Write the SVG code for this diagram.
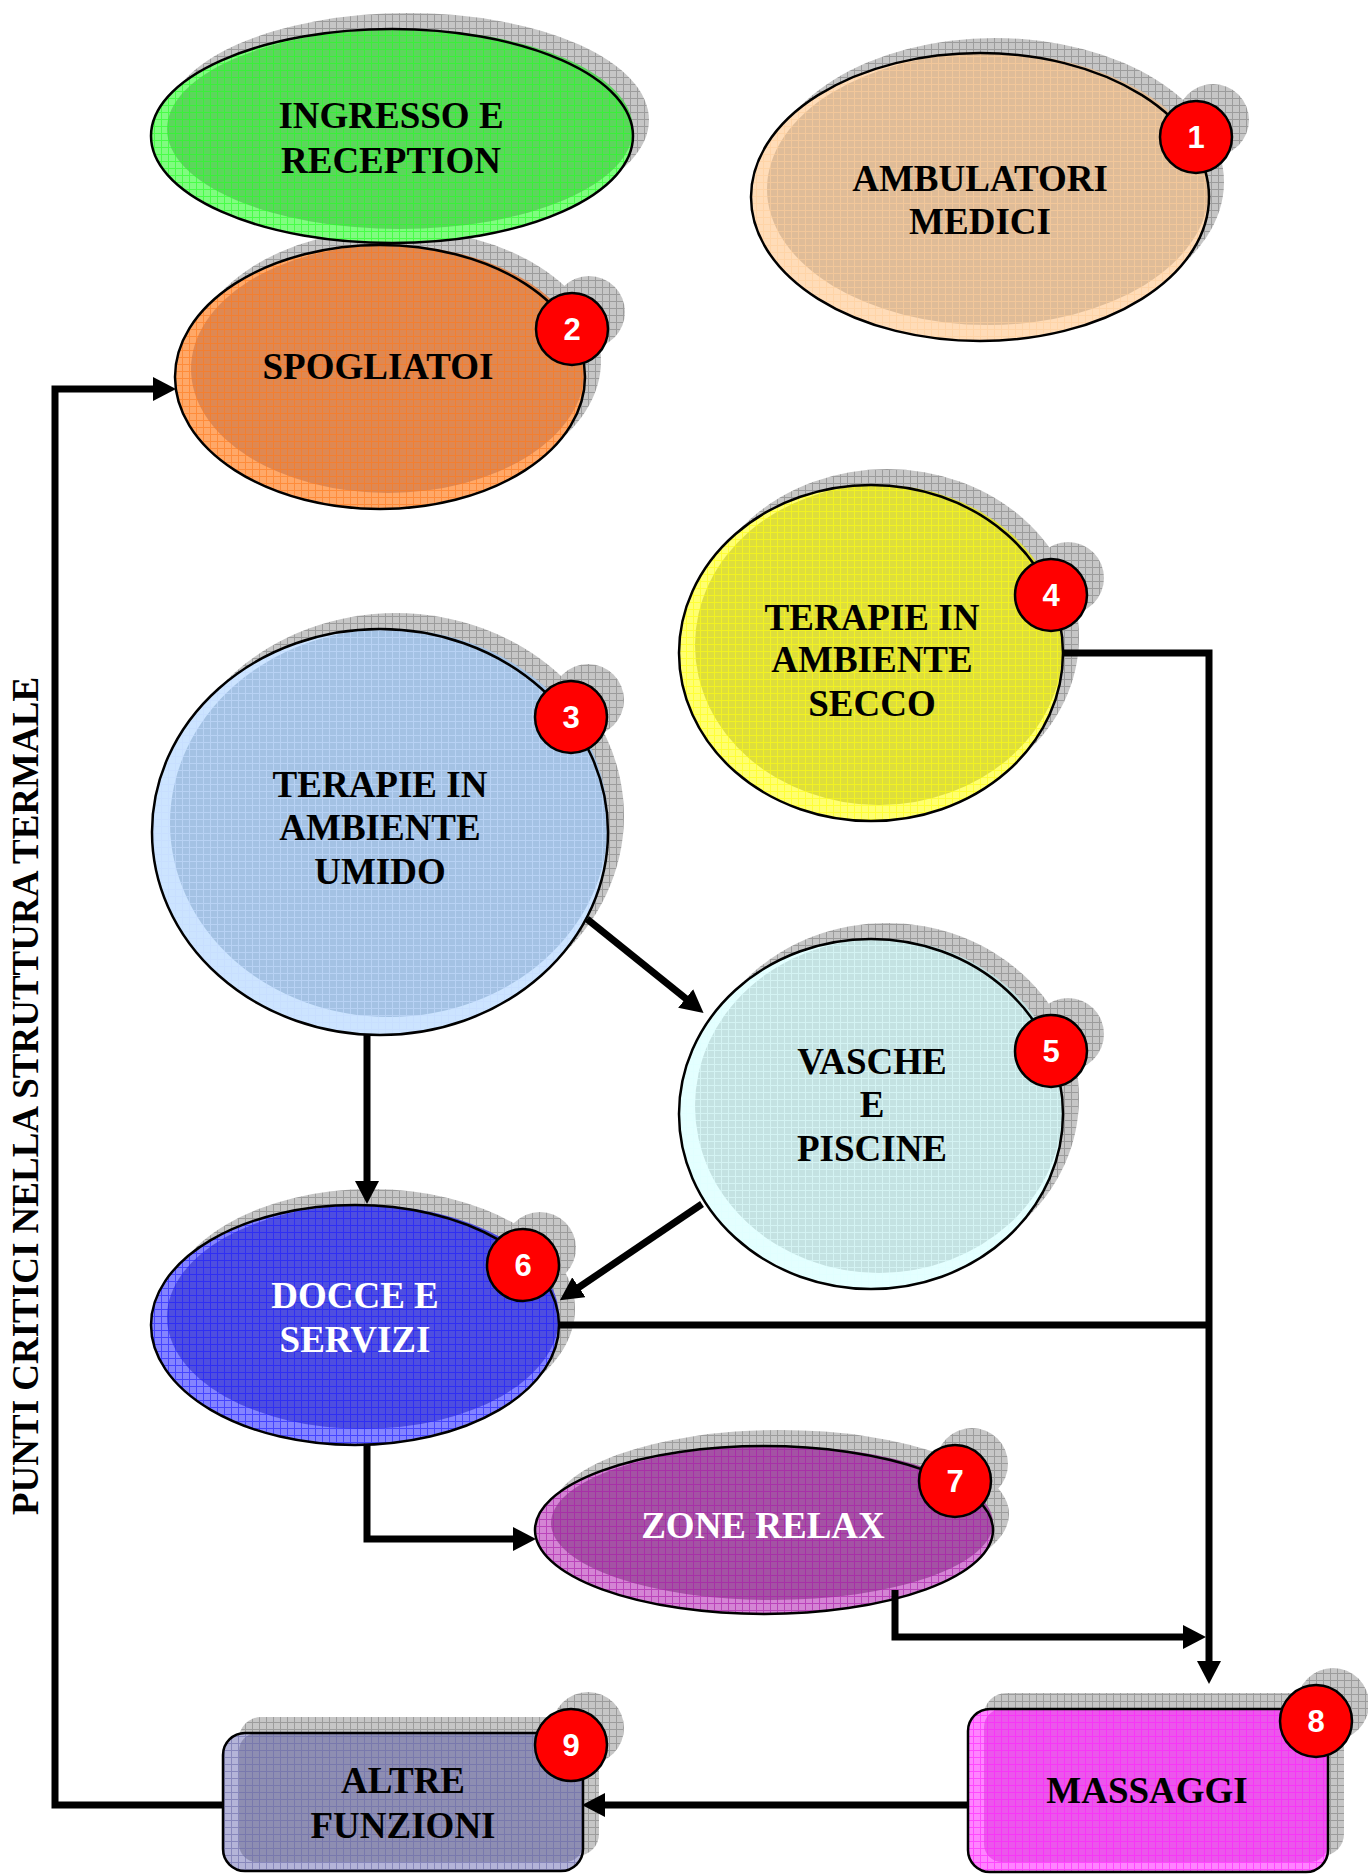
<svg xmlns="http://www.w3.org/2000/svg" width="1368" height="1874" viewBox="0 0 1368 1874">
<style>
.sh{fill:url(#g-shadow)}
.ol{fill:none;stroke:#000;stroke-width:2.5}
.lbl{font-family:"Liberation Serif","Times New Roman",serif;font-weight:bold;font-size:37px;text-anchor:middle;fill:#000}
.wl{fill:#fff}
.bc{fill:#ff0000;stroke:#000;stroke-width:2.5}
.bt{font-family:"Liberation Sans",Arial,sans-serif;font-weight:bold;font-size:31px;text-anchor:middle;fill:#fff}
.cn{fill:none;stroke:#000;stroke-width:7;stroke-linejoin:miter}
.ttl{font-family:"Liberation Serif","Times New Roman",serif;font-weight:bold;font-size:37px;text-anchor:middle;fill:#000}
</style>
<defs>
<pattern id="g-shadow" patternUnits="userSpaceOnUse" width="7" height="7"><rect width="7" height="7" fill="#c6c6c6"/><path d="M0 .5H7M.5 0V7" stroke="#9c9c9c" stroke-width="1"/></pattern>
<pattern id="g-green" patternUnits="userSpaceOnUse" width="7" height="7"><path d="M0 .5H7M.5 0V7" stroke="#22ff22" stroke-width="1" opacity=".6"/></pattern>
<pattern id="g-tan" patternUnits="userSpaceOnUse" width="7" height="7"><path d="M0 .5H7M.5 0V7" stroke="#ffcf9a" stroke-width="1" opacity=".6"/></pattern>
<pattern id="g-orange" patternUnits="userSpaceOnUse" width="7" height="7"><path d="M0 .5H7M.5 0V7" stroke="#ff7a1a" stroke-width="1" opacity=".6"/></pattern>
<pattern id="g-lblue" patternUnits="userSpaceOnUse" width="7" height="7"><path d="M0 .5H7M.5 0V7" stroke="#c4dcff" stroke-width="1" opacity=".6"/></pattern>
<pattern id="g-yellow" patternUnits="userSpaceOnUse" width="7" height="7"><path d="M0 .5H7M.5 0V7" stroke="#ffff10" stroke-width="1" opacity=".6"/></pattern>
<pattern id="g-cyan" patternUnits="userSpaceOnUse" width="7" height="7"><path d="M0 .5H7M.5 0V7" stroke="#e0ffff" stroke-width="1" opacity=".6"/></pattern>
<pattern id="g-blue" patternUnits="userSpaceOnUse" width="7" height="7"><path d="M0 .5H7M.5 0V7" stroke="#1a1aff" stroke-width="1" opacity=".6"/></pattern>
<pattern id="g-purple" patternUnits="userSpaceOnUse" width="7" height="7"><path d="M0 .5H7M.5 0V7" stroke="#a818a8" stroke-width="1" opacity=".6"/></pattern>
<pattern id="g-magenta" patternUnits="userSpaceOnUse" width="7" height="7"><path d="M0 .5H7M.5 0V7" stroke="#ff20ff" stroke-width="1" opacity=".6"/></pattern>
<pattern id="g-slate" patternUnits="userSpaceOnUse" width="7" height="7"><path d="M0 .5H7M.5 0V7" stroke="#6a6aaa" stroke-width="1" opacity=".6"/></pattern>
<marker id="arr" markerUnits="userSpaceOnUse" markerWidth="23" markerHeight="24" refX="12" refY="12" orient="auto"><path d="M0,0 L23,12 L0,24 Z" fill="#000"/></marker>
</defs>
<rect width="1368" height="1874" fill="#fff"/>

<text class="ttl" transform="translate(38,1096) rotate(-90)">PUNTI CRITICI NELLA STRUTTURA TERMALE</text>

<g id="node-spogliatoi">
<ellipse class="sh" cx="396" cy="361" rx="205" ry="132"/>
<circle class="sh" cx="589" cy="312" r="36"/>
<ellipse fill="#ffa868" cx="380" cy="377" rx="205" ry="132"/>
<ellipse fill="#df8852" cx="388" cy="369" rx="197" ry="124"/>
<ellipse fill="url(#g-orange)" cx="380" cy="377" rx="205" ry="132"/>
<ellipse class="ol" cx="380" cy="377" rx="205" ry="132"/>
<text class="lbl" x="378" y="379">SPOGLIATOI</text>
<circle class="bc" cx="572" cy="329" r="36"/>
<text class="bt" x="572" y="340">2</text>
</g>

<g id="node-ingresso">
<ellipse class="sh" cx="408" cy="120" rx="241" ry="107"/>
<ellipse fill="#80fc80" cx="392" cy="136" rx="241" ry="107"/>
<ellipse fill="#5cd65c" cx="400" cy="129" rx="233" ry="100"/>
<ellipse fill="url(#g-green)" cx="392" cy="136" rx="241" ry="107"/>
<ellipse class="ol" cx="392" cy="136" rx="241" ry="107"/>
<text class="lbl" x="391" y="128">INGRESSO E</text>
<text class="lbl" x="391" y="173">RECEPTION</text>
</g>

<g id="node-ambulatori">
<ellipse class="sh" cx="995" cy="182" rx="229" ry="144"/>
<circle class="sh" cx="1213" cy="120" r="36"/>
<ellipse fill="#ffdcb8" cx="980" cy="197" rx="229" ry="144"/>
<ellipse fill="#dfbc98" cx="988" cy="189" rx="221" ry="136"/>
<ellipse fill="url(#g-tan)" cx="980" cy="197" rx="229" ry="144"/>
<ellipse class="ol" cx="980" cy="197" rx="229" ry="144"/>
<text class="lbl" x="980" y="191">AMBULATORI</text>
<text class="lbl" x="980" y="234">MEDICI</text>
<circle class="bc" cx="1196" cy="137" r="36"/>
<text class="bt" x="1196" y="148">1</text>
</g>

<g id="node-umido">
<ellipse class="sh" cx="396" cy="816" rx="228" ry="203"/>
<circle class="sh" cx="588" cy="700" r="36"/>
<ellipse fill="#cce4ff" cx="380" cy="832" rx="228" ry="203"/>
<ellipse fill="#a4c2e4" cx="389" cy="823" rx="219" ry="194"/>
<ellipse fill="url(#g-lblue)" cx="380" cy="832" rx="228" ry="203"/>
<ellipse class="ol" cx="380" cy="832" rx="228" ry="203"/>
<text class="lbl" x="380" y="797">TERAPIE IN</text>
<text class="lbl" x="380" y="840">AMBIENTE</text>
<text class="lbl" x="380" y="884">UMIDO</text>
<circle class="bc" cx="571" cy="717" r="36"/>
<text class="bt" x="571" y="728">3</text>
</g>

<g id="node-secco">
<ellipse class="sh" cx="887" cy="637" rx="192" ry="168"/>
<circle class="sh" cx="1068" cy="578" r="36"/>
<ellipse fill="#ffff70" cx="871" cy="653" rx="192" ry="168"/>
<ellipse fill="#dede3c" cx="879" cy="645" rx="184" ry="160"/>
<ellipse fill="url(#g-yellow)" cx="871" cy="653" rx="192" ry="168"/>
<ellipse class="ol" cx="871" cy="653" rx="192" ry="168"/>
<text class="lbl" x="872" y="630">TERAPIE IN</text>
<text class="lbl" x="872" y="672">AMBIENTE</text>
<text class="lbl" x="872" y="716">SECCO</text>
<circle class="bc" cx="1051" cy="595" r="36"/>
<text class="bt" x="1051" y="606">4</text>
</g>

<g id="node-vasche">
<ellipse class="sh" cx="887" cy="1098" rx="192" ry="175"/>
<circle class="sh" cx="1068" cy="1034" r="36"/>
<ellipse fill="#e4ffff" cx="871" cy="1114" rx="192" ry="175"/>
<ellipse fill="#c4e2e2" cx="879" cy="1106" rx="184" ry="167"/>
<ellipse fill="url(#g-cyan)" cx="871" cy="1114" rx="192" ry="175"/>
<ellipse class="ol" cx="871" cy="1114" rx="192" ry="175"/>
<text class="lbl" x="872" y="1074">VASCHE</text>
<text class="lbl" x="872" y="1117">E</text>
<text class="lbl" x="872" y="1161">PISCINE</text>
<circle class="bc" cx="1051" cy="1051" r="36"/>
<text class="bt" x="1051" y="1062">5</text>
</g>

<g id="node-docce">
<ellipse class="sh" cx="371" cy="1309" rx="204" ry="120"/>
<circle class="sh" cx="540" cy="1248" r="36"/>
<ellipse fill="#8484ff" cx="355" cy="1325" rx="204" ry="120"/>
<ellipse fill="#4e4ee0" cx="363" cy="1317" rx="196" ry="112"/>
<ellipse fill="url(#g-blue)" cx="355" cy="1325" rx="204" ry="120"/>
<ellipse class="ol" cx="355" cy="1325" rx="204" ry="120"/>
<text class="lbl wl" x="355" y="1308">DOCCE E</text>
<text class="lbl wl" x="355" y="1352">SERVIZI</text>
<circle class="bc" cx="523" cy="1265" r="36"/>
<text class="bt" x="523" y="1276">6</text>
</g>

<g id="node-zone">
<ellipse class="sh" cx="780" cy="1514" rx="229" ry="84"/>
<circle class="sh" cx="972" cy="1464" r="36"/>
<ellipse fill="#d484d4" cx="764" cy="1530" rx="229" ry="84"/>
<ellipse fill="#a452a4" cx="772" cy="1523" rx="221" ry="77"/>
<ellipse fill="url(#g-purple)" cx="764" cy="1530" rx="229" ry="84"/>
<ellipse class="ol" cx="764" cy="1530" rx="229" ry="84"/>
<text class="lbl wl" x="763" y="1538">ZONE RELAX</text>
<circle class="bc" cx="955" cy="1481" r="36"/>
<text class="bt" x="955" y="1492">7</text>
</g>

<g id="node-massaggi">
<rect class="sh" x="984" y="1693" width="360" height="163" rx="22"/>
<circle class="sh" cx="1333" cy="1704" r="36"/>
<rect fill="#ff84ff" x="968" y="1709" width="360" height="163" rx="22"/>
<rect fill="#ec56ec" x="984" y="1709" width="344" height="153" rx="18"/>
<rect fill="url(#g-magenta)" x="968" y="1709" width="360" height="163" rx="22"/>
<rect class="ol" x="968" y="1709" width="360" height="163" rx="22"/>
<text class="lbl" x="1147" y="1803">MASSAGGI</text>
<circle class="bc" cx="1316" cy="1721" r="36"/>
<text class="bt" x="1316" y="1732">8</text>
</g>

<g id="node-altre">
<rect class="sh" x="239" y="1717" width="360" height="139" rx="22"/>
<circle class="sh" cx="588" cy="1728" r="36"/>
<rect fill="#b4b4d8" x="223" y="1733" width="360" height="138" rx="22"/>
<rect fill="#8e8eb2" x="239" y="1733" width="344" height="129" rx="18"/>
<rect fill="url(#g-slate)" x="223" y="1733" width="360" height="138" rx="22"/>
<rect class="ol" x="223" y="1733" width="360" height="138" rx="22"/>
<text class="lbl" x="403" y="1793">ALTRE</text>
<text class="lbl" x="403" y="1838">FUNZIONI</text>
<circle class="bc" cx="571" cy="1745" r="36"/>
<text class="bt" x="571" y="1756">9</text>
</g>

<g id="connectors">
<path class="cn" d="M223,1805 H55 V389 H165" marker-end="url(#arr)"/>
<path class="cn" d="M968,1805 H593" marker-end="url(#arr)"/>
<path class="cn" d="M1063,653 H1209 V1673" marker-end="url(#arr)"/>
<path class="cn" d="M559,1325 H1209"/>
<path class="cn" d="M895,1590 V1637 H1195" marker-end="url(#arr)"/>
<path class="cn" d="M367,1035 V1193" marker-end="url(#arr)"/>
<path class="cn" d="M587,919 L695,1006" marker-end="url(#arr)"/>
<path class="cn" d="M702,1204 L569,1294" marker-end="url(#arr)"/>
<path class="cn" d="M367,1445 V1539 H525" marker-end="url(#arr)"/>
</g>
</svg>
